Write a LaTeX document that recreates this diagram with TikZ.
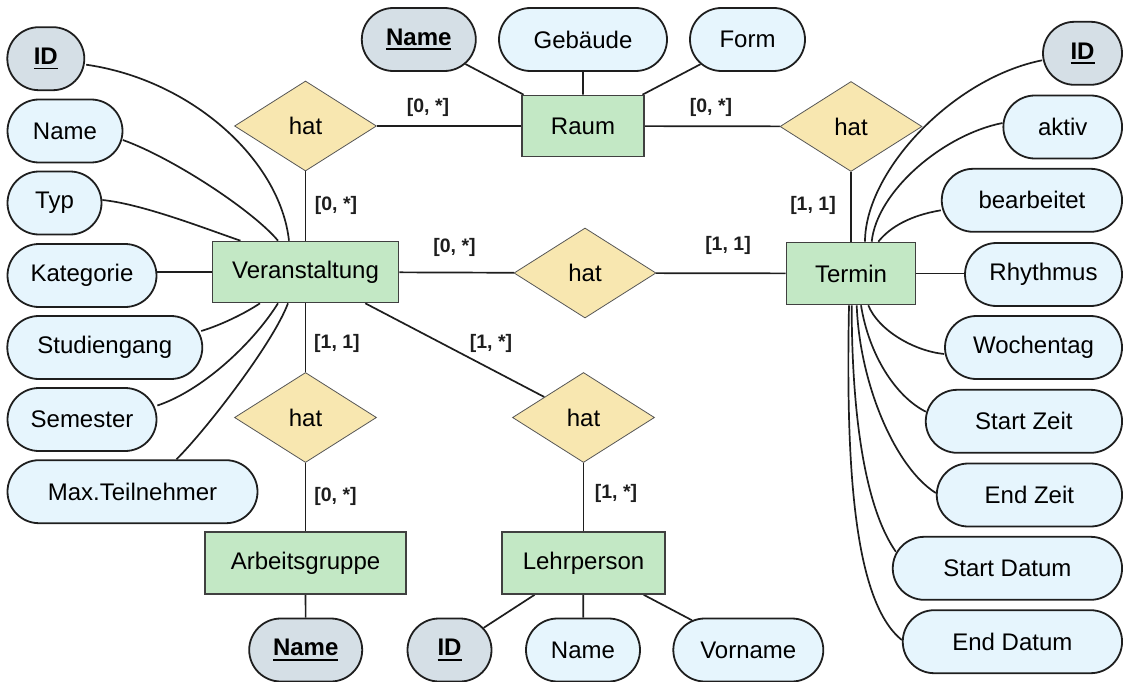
\documentclass[tikz,border=0pt]{standalone}
\usepackage{fontspec}
\setmainfont{Liberation Sans}
\usetikzlibrary{shapes.geometric,shapes.misc,calc,backgrounds}

\definecolor{entfill}{HTML}{C3E8C5}
\definecolor{relfill}{HTML}{F8E7B0}
\definecolor{attfill}{HTML}{E6F5FD}
\definecolor{keyfill}{HTML}{D5DFE6}
\definecolor{ink}{HTML}{1E1E1E}

% bold, underlined name of a key attribute
\newcommand\keyname[1]{\setbox0\hbox{\bfseries #1}\rlap{\rule[-5pt]{\wd0}{1.8pt}}\box0}

\tikzset{
  base/.style={font=\fontsize{24}{28}\selectfont, inner sep=0pt, text=black},
  entity/.style={base, rectangle, draw=ink!85, line width=1.6pt, fill=entfill},
  rel/.style={base, diamond, draw=ink!75, line width=0.8pt, fill=relfill,
    minimum width=142pt, minimum height=90pt},
  attr/.style={base, rounded rectangle, draw=ink, line width=1.8pt, fill=attfill,
    minimum height=63pt},
  keyattr/.style={attr, fill=keyfill},
  card/.style={font=\fontsize{19.5}{23}\selectfont\bfseries, inner sep=0pt, text=ink},
  link/.style={draw=ink, line width=1.7pt},
}

\begin{document}
\begin{tikzpicture}[x=1pt,y=-1pt]
\useasboundingbox (0,0) rectangle (1124,682);

% ---------- entities ----------
\node[entity, minimum width=122pt, minimum height=61pt] (raum)   at (583,126)   {Raum};
\node[entity, minimum width=186pt, minimum height=61pt] (ver)    at (305.5,272) {Veranstaltung};
\node[entity, minimum width=129pt, minimum height=62pt] (termin) at (851,273.5) {Termin};
\node[entity, minimum width=201pt, minimum height=62pt] (ag)     at (305.5,563) {Arbeitsgruppe};
\node[entity, minimum width=163pt, minimum height=62pt] (lp)     at (583.5,563) {Lehrperson};

% ---------- relationships ----------
\node[rel] (hRV) at (305.5,126)   {hat};
\node[rel] (hRT) at (851,126.5)   {hat};
\node[rel] (hVT) at (585,273)     {hat};
\node[rel] (hVA) at (305.5,417.5) {hat};
\node[rel] (hVL) at (583.5,417.5) {hat};

% ---------- attributes of Veranstaltung ----------
\node[keyattr, minimum width=77pt]  (vID)   at (45.8,58.7)  {\keyname{ID}};
\node[attr, minimum width=115pt]    (vName) at (65,131)     {Name};
\node[attr, minimum width=94pt]     (vTyp)  at (54.5,203)   {Typ};
\node[attr, minimum width=149pt]    (vKat)  at (82,275.5)   {Kategorie};
\node[attr, minimum width=195pt]    (vStud) at (104.8,347.5){Studiengang};
\node[attr, minimum width=149pt]    (vSem)  at (82,419.5)   {Semester};
\node[attr, minimum width=250pt]    (vMax)  at (132.5,491.7){Max.Teilnehmer};

% ---------- attributes of Raum ----------
\node[keyattr, minimum width=114pt] (rName) at (418.8,39.5) {\keyname{Name}};
\node[attr, minimum width=168pt]    (rGeb)  at (583,39.5)   {Gebäude};
\node[attr, minimum width=115pt]    (rForm) at (747.5,39.5) {Form};

% ---------- attributes of Termin ----------
\node[keyattr, minimum width=79pt]  (tID)    at (1082.5,53.3)  {\keyname{ID}};
\node[attr, minimum width=118.7pt]  (tAktiv) at (1062.7,127)   {aktiv};
\node[attr, minimum width=180.3pt]  (tBearb) at (1031.9,200.3) {bearbeitet};
\node[attr, minimum width=157pt]    (tRhy)   at (1043.5,274.5) {Rhythmus};
\node[attr, minimum width=177pt]    (tWoche) at (1033.5,347.5) {Wochentag};
\node[attr, minimum width=196.3pt]  (tSZ)    at (1023.9,421.3) {Start Zeit};
\node[attr, minimum width=185.3pt]  (tEZ)    at (1029.4,495)   {End Zeit};
\node[attr, minimum width=229.3pt]  (tSD)    at (1007.4,568.3) {Start Datum};
\node[attr, minimum width=219.3pt]  (tED)    at (1012.4,641.7) {End Datum};

% ---------- attributes of Arbeitsgruppe and Lehrperson ----------
\node[keyattr, minimum width=113pt] (agName) at (305.7,650) {\keyname{Name}};
\node[keyattr, minimum width=84pt]  (lpID)   at (449.5,650) {\keyname{ID}};
\node[attr, minimum width=114pt]    (lpName) at (583,650)   {Name};
\node[attr, minimum width=150pt]    (lpVor)  at (748.3,650) {Vorname};

% ---------- cardinalities ----------
\node[card] (k1)  at (428,107.5) {[0, *]};
\node[card] (k2)  at (711,107.5) {[0, *]};
\node[card] (k3)  at (336,205)   {[0, *]};
\node[card] (k4)  at (813,205)   {[1, 1]};
\node[card] (k5)  at (454.5,247) {[0, *]};
\node[card] (k6)  at (728,245.5) {[1, 1]};
\node[card] (k7)  at (337,343)   {[1, 1]};
\node[card] (k8)  at (491,343)   {[1, *]};
\node[card] (k9)  at (335.5,496.7) {[0, *]};
\node[card] (k10) at (616,493)   {[1, *]};

% attachment points on the entity edges
\coordinate (vT1) at ($(ver.north)+(-16.5,0)$);
\coordinate (vT2) at ($(ver.north)+(-27.5,0)$);
\coordinate (vT3) at ($(ver.north)+(-65,0)$);
\coordinate (vB1) at ($(ver.south)+(-45.5,0)$);
\coordinate (vB2) at ($(ver.south)+(-27.5,0)$);
\coordinate (vB3) at ($(ver.south)+(-17.5,0)$);
\coordinate (tT1) at ($(termin.north)+(14,0)$);
\coordinate (tT2) at ($(termin.north)+(20.7,0)$);
\coordinate (tT3) at ($(termin.north)+(27.3,0)$);
\coordinate (tB1) at ($(termin.south)+(17.3,0)$);
\coordinate (tB2) at ($(termin.south)+(10,0)$);
\coordinate (tB3) at ($(termin.south)+(5.7,0)$);
\coordinate (tB4) at ($(termin.south)+(0.7,0)$);
\coordinate (tB5) at ($(termin.south)+(-2,0)$);

\begin{scope}[on background layer]
  % relationship links
  \draw[link] (hRV) -- (raum);
  \draw[link] (raum) -- (hRT);
  \draw[link] (hRV) -- (ver);
  \draw[link] (hRT) -- (termin);
  \draw[link] (ver) -- (hVT);
  \draw[link] (hVT) -- (termin);
  \draw[link] (ver) -- (hVA);
  \draw[link] (ver) -- (hVL);
  \draw[link] (hVA) -- (ag);
  \draw[link] (hVL) -- (lp);

  % Raum attributes
  \draw[link] (rName) -- (raum);
  \draw[link] (rGeb) -- (raum);
  \draw[link] (rForm) -- (raum);

  % Arbeitsgruppe / Lehrperson attributes
  \draw[link] (ag) -- (agName);
  \draw[link] (lp) -- (lpID);
  \draw[link] (lp) -- (lpName);
  \draw[link] (lp) -- (lpVor);

  % Veranstaltung attributes
  \draw[link] ($(vID.east)+(1,6)$) .. controls +(105,15) and ($(vT1)+(-9,-81)$) .. (vT1);
  \draw[link] ($(vName.east)+(-0.5,9)$) .. controls +(50,18) and ($(vT2)+(-25,-30)$) .. (vT2);
  \draw[link] ($(vTyp.east)+(0,-3)$) .. controls +(40,4) and ($(vT3)+(-35,-12)$) .. (vT3);
  \draw[link] (vKat.east |- ver.west) -- (ver.west);
  \draw[link] ($(vStud.east)+(-2,-16.5)$) .. controls +(20,-6) and ($(vB1)+(-15,10)$) .. (vB1);
  \draw[link] ($(vSem.east)+(0,-14)$) .. controls +(45,-15) and ($(vB2)+(-25,40)$) .. (vB2);
  \draw[link] ($(vMax.north)+(44,0)$) .. controls +(30,-30) and ($(vB3)+(-15,40)$) .. (vB3);

  % Termin attributes
  \draw[link] ($(tID.west)+(0,7)$) .. controls +(-90,18) and ($(tT1)+(0,-70)$) .. (tT1);
  \draw[link] ($(tAktiv.west)+(0,-4)$) .. controls +(-60,12) and ($(tT2)+(5,-50)$) .. (tT2);
  \draw[link] ($(tBearb.west)+(0,10)$) .. controls +(-30,5) and ($(tT3)+(12,-15)$) .. (tT3);
  \draw[link] (termin.east) -- (termin.east -| tRhy.west);
  \draw[link] ($(tWoche.west)+(0,6.5)$) .. controls +(-30,-3) and ($(tB1)+(10,25)$) .. (tB1);
  \draw[link] ($(tSZ.west)+(1,-9.6)$) .. controls +(-30,-15) and ($(tB2)+(8,50)$) .. (tB2);
  \draw[link] ($(tEZ.west)+(0,-2)$) .. controls +(-40,-25) and ($(tB3)+(3,80)$) .. (tB3);
  \draw[link] ($(tSD.west)+(4,-16.6)$) .. controls +(-35,-50) and ($(tB4)+(0,90)$) .. (tB4);
  \draw[link] ($(tED.west)+(0,-1.7)$) .. controls +(-50,-40) and ($(tB5)+(-3,150)$) .. (tB5);
\end{scope}
\end{tikzpicture}
\end{document}
